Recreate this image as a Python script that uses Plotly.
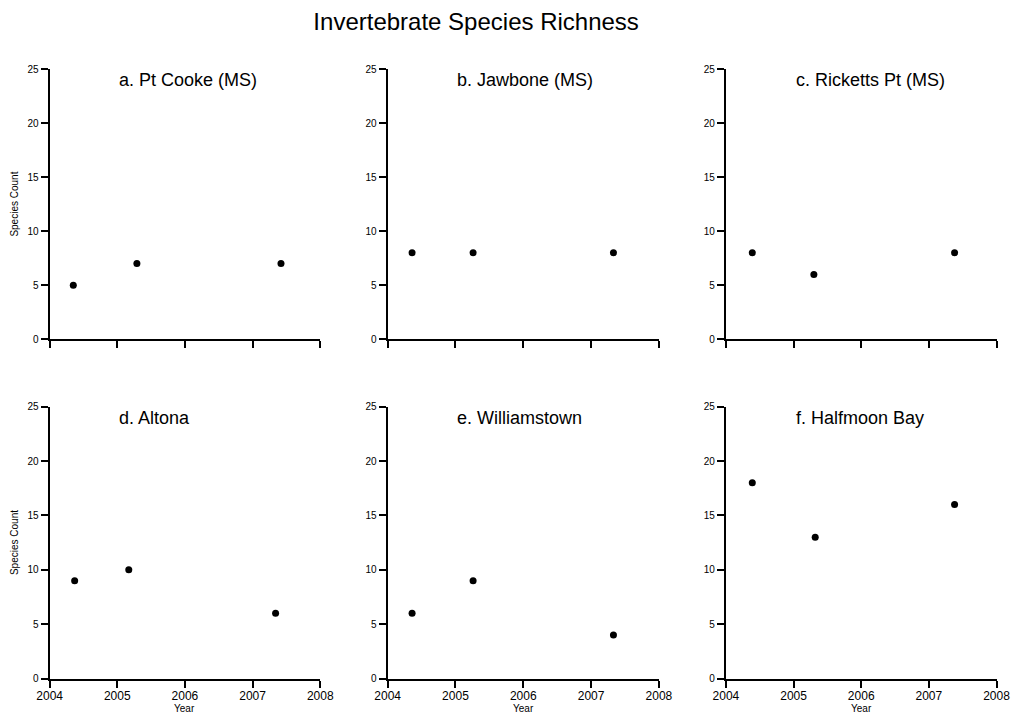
import plotly.graph_objects as go

# ---- data ----
panel_titles = ["a. Pt Cooke (MS)", "b. Jawbone (MS)", "c. Ricketts Pt (MS)",
                "d. Altona", "e. Williamstown", "f. Halfmoon Bay"]
years_a = [2004.35, 2005.29, 2007.42]
count_a = [5, 7, 7]
years_b = [2004.36, 2005.26, 2007.33]
count_b = [8, 8, 8]
years_c = [2004.39, 2005.30, 2007.38]
count_c = [8, 6, 8]
years_d = [2004.37, 2005.17, 2007.34]
count_d = [9, 10, 6]
years_e = [2004.36, 2005.26, 2007.33]
count_e = [6, 9, 4]
years_f = [2004.39, 2005.32, 2007.38]
count_f = [18, 13, 16]
x_ticks = [2004, 2005, 2006, 2007, 2008]
y_ticks = [0, 5, 10, 15, 20, 25]

years = [years_a, years_b, years_c, years_d, years_e, years_f]
counts = [count_a, count_b, count_c, count_d, count_e, count_f]

# page offset of the figure (browser body margin); keep the page free of scrollbars
OFF = 8
W, H = 1019 - 2 * OFF, 722 - 2 * OFF
# tiny horizontal fit so that the right-most tick label stays visible
SX, DX = 0.996, 2.5
FONT = "Arial, 'Liberation Sans', sans-serif"

# target positions in page pixels
col_px = [(52.3, 324.0), (391.7, 664.0), (731.3, 1003.0)]
row_px = [(69.0, 339.3), (406.7, 678.5)]


def px_x(p):
    return ((p - OFF) * SX - DX) / W


def px_y(p):
    return 1 - (p - OFF) / H


fig = go.Figure()
layout = dict(
    width=W, height=H,
    margin=dict(l=0, r=0, t=0, b=0),
    paper_bgcolor="white", plot_bgcolor="white",
    showlegend=False,
    font=dict(family=FONT, color="black"),
    title=dict(text="Invertebrate Species Richness", x=px_x(480.5), xanchor="center",
               y=px_y(21.5), yanchor="middle", font=dict(size=24, family=FONT, color="black")),
)
annotations = []

for i in range(6):
    r, c = divmod(i, 3)
    n = i + 1
    xa = "xaxis" if n == 1 else f"xaxis{n}"
    ya = "yaxis" if n == 1 else f"yaxis{n}"
    xr = "x" if n == 1 else f"x{n}"
    yr = "y" if n == 1 else f"y{n}"
    x0, x1 = col_px[c]
    yt, yb = row_px[r]
    layout[xa] = dict(
        domain=[px_x(x0), px_x(x1)], anchor=yr, range=[2004, 2008],
        tickvals=x_ticks, ticktext=[str(t) for t in x_ticks],
        showticklabels=(r == 1), ticklabeloverflow="allow", ticklabelstandoff=-2,
        ticks="outside", ticklen=7, tickwidth=2, tickcolor="black",
        showline=True, linewidth=2, linecolor="black",
        showgrid=False, zeroline=False, automargin=False,
        tickfont=dict(size=12, family=FONT, color="black"),
    )
    layout[ya] = dict(
        domain=[px_y(yb), px_y(yt)], anchor=xr, range=[0, 25],
        tickvals=y_ticks, ticktext=[str(t) for t in y_ticks],
        ticks="outside", ticklen=7, tickwidth=2, tickcolor="black",
        showline=True, linewidth=2, linecolor="black",
        showgrid=False, zeroline=False, automargin=False,
        tickfont=dict(size=10, family=FONT, color="black"),
    )
    fig.add_trace(go.Scatter(
        x=years[i], y=counts[i], mode="markers",
        marker=dict(color="black", size=7),
        xaxis=xr, yaxis=yr, cliponaxis=False,
    ))
    annotations.append(dict(
        text=panel_titles[i], xref=xr, x=2005, xanchor="left",
        yref=f"{yr} domain", y=0.958, yanchor="middle", showarrow=False,
        font=dict(size=18, family=FONT, color="black"),
    ))
    if c == 0:
        annotations.append(dict(
            text="Species Count", xref="paper", x=px_x(17), xanchor="center",
            yref="paper", y=px_y((yt + yb) / 2), yanchor="middle",
            textangle=-90, showarrow=False,
            font=dict(size=10, family=FONT, color="black"),
        ))
    if r == 1:
        annotations.append(dict(
            text="Year", xref="paper", x=px_x((x0 + x1) / 2), xanchor="center",
            yref="paper", y=px_y(708), yanchor="middle", showarrow=False,
            borderpad=0, font=dict(size=10, family=FONT, color="black"),
        ))

layout["annotations"] = annotations
fig.update_layout(**layout)
fig.write_html("out.html")
